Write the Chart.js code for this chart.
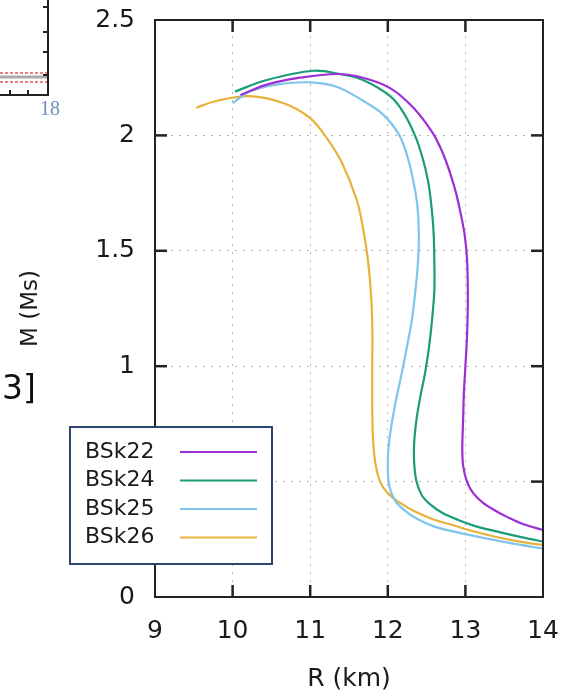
<!DOCTYPE html>
<html>
<head>
<meta charset="utf-8">
<script src="https://cdn.jsdelivr.net/npm/chart.js@4"></script>
<style>
body { margin: 0; background: #fff; }
#wrap { position: relative; width: 563px; height: 697px; }
.note { position: absolute; white-space: nowrap; }
</style>
</head>
<body>
<div id="wrap">
  <canvas id="chart" width="563" height="697"></canvas>
  <div class="note" style="left:40px;top:97px;font:20px 'Liberation Serif';color:#6b8fba">18</div>
  <div class="note" style="left:2px;top:368px;font:33px 'DejaVu Sans';color:#111">3]</div>
</div>
<script>
// mass-radius curves (R in km, M in solar masses)
const seriesNames = ["BSk22", "BSk24", "BSk25", "BSk26"];
const seriesColors = ["#9a2fd6", "#1a9c7a", "#7fc4ec", "#e8b23a"];

const r22 = [10.1, 10.44, 10.87, 11.35, 11.68, 12.03, 12.33, 12.58, 12.7, 12.8, 12.88, 12.94, 12.99, 13.02, 13.03, 13.03, 13.02, 13.0, 12.98, 12.97, 12.96, 12.97, 13.02, 13.1, 13.22, 13.38, 13.55, 13.75, 14.0];
const m22 = [2.175, 2.22, 2.25, 2.266, 2.25, 2.205, 2.12, 2.01, 1.93, 1.84, 1.75, 1.66, 1.57, 1.47, 1.36, 1.24, 1.12, 1.0, 0.88, 0.76, 0.65, 0.57, 0.5, 0.45, 0.41, 0.375, 0.345, 0.315, 0.29];

const r24 = [10.03, 10.44, 11.04, 11.38, 11.68, 12.03, 12.2, 12.35, 12.45, 12.52, 12.56, 12.59, 12.6, 12.6, 12.57, 12.53, 12.48, 12.42, 12.37, 12.34, 12.34, 12.37, 12.44, 12.55, 12.7, 12.9, 13.15, 13.45, 13.75, 14.0];
const m24 = [2.19, 2.24, 2.28, 2.266, 2.24, 2.17, 2.1, 2.0, 1.9, 1.8, 1.7, 1.58, 1.45, 1.33, 1.2, 1.08, 0.97, 0.87, 0.77, 0.67, 0.58, 0.5, 0.44, 0.4, 0.365, 0.335, 0.305, 0.28, 0.257, 0.24];

const r25 = [10.0, 10.22, 10.57, 11.0, 11.35, 11.68, 11.94, 12.15, 12.26, 12.33, 12.38, 12.4, 12.39, 12.36, 12.31, 12.25, 12.18, 12.11, 12.05, 12.01, 12.0, 12.02, 12.09, 12.2, 12.37, 12.6, 12.9, 13.25, 13.6, 14.0];
const m25 = [2.14, 2.19, 2.22, 2.23, 2.21, 2.15, 2.09, 2.0, 1.9, 1.8, 1.7, 1.58, 1.46, 1.34, 1.2, 1.09, 0.97, 0.86, 0.75, 0.65, 0.56, 0.48, 0.42, 0.38, 0.34, 0.305, 0.28, 0.255, 0.232, 0.21];

const r26 = [9.53, 9.8, 10.22, 10.65, 11.0, 11.21, 11.41, 11.6, 11.68, 11.74, 11.78, 11.8, 11.8, 11.8, 11.81, 11.84, 11.9, 12.0, 12.15, 12.35, 12.6, 12.85, 13.1, 13.4, 13.7, 14.0];
const m26 = [2.12, 2.15, 2.17, 2.14, 2.075, 1.99, 1.88, 1.72, 1.6, 1.47, 1.33, 1.18, 1.0, 0.82, 0.68, 0.58, 0.5, 0.45, 0.41, 0.37, 0.335, 0.31, 0.285, 0.26, 0.24, 0.225];

const xTicks = [9, 10, 11, 12, 13, 14];
const xTickLabels = ["9", "10", "11", "12", "13", "14"];
const yTicks = [0, 0.5, 1, 1.5, 2, 2.5];
const yTickLabels = ["0", "0.5", "1", "1.5", "2", "2.5"];

const allR = [r22, r24, r25, r26];
const allM = [m22, m24, m25, m26];

const datasets = seriesNames.map((name, i) => ({
  label: name,
  data: allR[i].map((r, j) => ({ x: r, y: allM[i][j] })),
  showLine: true,
  borderColor: seriesColors[i],
  borderWidth: 2.2,
  pointRadius: 0,
  tension: 0.35,
  fill: false
}));

const font = "DejaVu Sans";

// gnuplot-like frame with inward ticks on all four sides
const framePlugin = {
  id: "frame",
  afterDatasetsDraw(chart) {
    const { ctx, chartArea: a, scales } = chart;
    const seg = (x1, y1, x2, y2) => { ctx.beginPath(); ctx.moveTo(x1, y1); ctx.lineTo(x2, y2); ctx.stroke(); };
    ctx.save();
    ctx.strokeStyle = "#222";
    ctx.lineWidth = 2.5;
    const t = 12;
    xTicks.slice(1, -1).forEach(v => {
      const px = scales.x.getPixelForValue(v);
      seg(px, a.bottom, px, a.bottom - t);
      seg(px, a.top, px, a.top + t);
    });
    yTicks.slice(1, -1).forEach(v => {
      const py = scales.y.getPixelForValue(v);
      seg(a.left, py, a.left + t, py);
      seg(a.right, py, a.right - t, py);
    });
    ctx.lineWidth = 2;
    ctx.strokeRect(a.left, a.top, a.right - a.left, a.bottom - a.top);
    ctx.restore();
  }
};

// boxed legend sitting over the lower-left part of the plot
const legendBox = {
  id: "legendBox",
  afterDraw(chart) {
    const ctx = chart.ctx;
    ctx.save();
    ctx.fillStyle = "#fff";
    ctx.fillRect(70, 427, 202, 137);
    ctx.strokeStyle = "#2b4570";
    ctx.lineWidth = 2;
    ctx.strokeRect(70, 427, 202, 137);
    ctx.font = "22px '" + font + "'";
    ctx.textBaseline = "middle";
    chart.data.datasets.forEach((ds, i) => {
      const yy = 452 + i * 28.5;
      ctx.fillStyle = "#1a1a1a";
      ctx.fillText(ds.label, 85, yy);
      ctx.strokeStyle = ds.borderColor;
      ctx.lineWidth = 2;
      ctx.beginPath();
      ctx.moveTo(180, yy);
      ctx.lineTo(257, yy);
      ctx.stroke();
    });
    ctx.restore();
  }
};

// the cropped corner of a neighbouring figure, top-left
const cornerBits = {
  id: "cornerBits",
  afterDraw(chart) {
    const ctx = chart.ctx;
    const seg = (x1, y1, x2, y2) => { ctx.beginPath(); ctx.moveTo(x1, y1); ctx.lineTo(x2, y2); ctx.stroke(); };
    ctx.save();
    ctx.strokeStyle = "#aaa";
    ctx.lineWidth = 3;
    seg(0, 77, 47, 77);
    ctx.strokeStyle = "#e05555";
    ctx.lineWidth = 1.5;
    ctx.setLineDash([3, 2]);
    seg(0, 73, 47, 73);
    seg(0, 82, 47, 82);
    ctx.setLineDash([]);
    ctx.strokeStyle = "#222";
    ctx.lineWidth = 2;
    seg(48, 0, 48, 95);
    seg(0, 95, 49, 95);
    [7, 32, 52, 75].forEach(y => seg(43, y, 48, y));
    [10, 28].forEach(x => seg(x, 95, x, 90));
    ctx.restore();
  }
};

new Chart(document.getElementById("chart"), {
  type: "scatter",
  data: { datasets: datasets },
  options: {
    responsive: false,
    animation: false,
    layout: { padding: { top: 20, right: 20, left: 0, bottom: 0 } },
    plugins: { legend: { display: false }, tooltip: { enabled: false } },
    scales: {
      x: {
        type: "linear",
        min: 9,
        max: 14,
        afterBuildTicks: s => { s.ticks = xTicks.map(v => ({ value: v })); },
        afterFit: s => { s.height = 100; s.paddingLeft = 0; s.paddingRight = 0; },
        ticks: {
          callback: v => xTickLabels[xTicks.indexOf(v)],
          color: "#1a1a1a",
          font: { family: font, size: 25 },
          padding: 19,
          maxRotation: 0
        },
        grid: { color: "#b5b5b5", lineWidth: 1, drawTicks: false },
        border: { display: false, dash: [2, 6] },
        title: {
          display: true,
          text: "R (km)",
          color: "#1a1a1a",
          font: { family: font, size: 25 },
          padding: { top: 0, bottom: 3 }
        }
      },
      y: {
        type: "linear",
        min: 0,
        max: 2.5,
        afterBuildTicks: s => { s.ticks = yTicks.map(v => ({ value: v })); },
        afterFit: s => { s.width = 155; s.paddingTop = 0; s.paddingBottom = 0; },
        ticks: {
          callback: v => yTickLabels[yTicks.indexOf(v)],
          color: "#1a1a1a",
          font: { family: font, size: 25 },
          padding: 20
        },
        grid: { color: "#b5b5b5", lineWidth: 1, drawTicks: false },
        border: { display: false, dash: [2, 6] },
        title: {
          display: true,
          text: "M (Ms)",
          color: "#1a1a1a",
          font: { family: font, size: 23 },
          padding: { top: 17, bottom: 0 }
        }
      }
    }
  },
  plugins: [framePlugin, legendBox, cornerBits]
});
</script>
</body>
</html>
